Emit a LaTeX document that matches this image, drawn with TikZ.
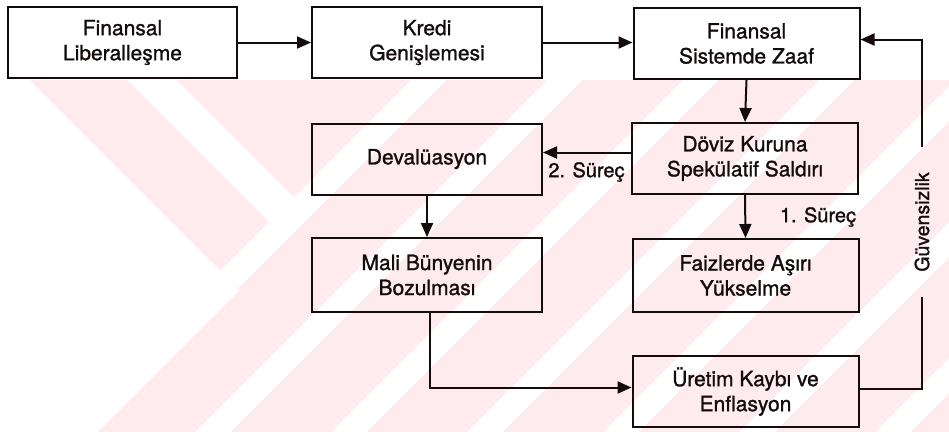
\documentclass[tikz,border=0pt]{standalone}
\usepackage{fontspec}
\setmainfont{TeX Gyre Heros}
\newfontfamily\heavy{TeX Gyre Heros}[FakeBold=1.2]
\usetikzlibrary{arrows.meta}
\definecolor{wm}{RGB}{253,235,238}
\definecolor{ink}{RGB}{20,12,12}
\begin{document}
\begin{tikzpicture}[x=1pt,y=-1pt,
  box/.style={draw=ink, text=ink, line width=2pt, minimum width=229pt, minimum height=71pt,
    align=center, font=\heavy\fontsize{21}{25}\selectfont, inner sep=0pt},
  rbox/.style={box, minimum width=226pt},
  arr/.style={draw=ink, line width=2pt, -{Triangle[length=14pt,width=12pt]}},
  conn/.style={draw=ink, line width=2pt},
  lbl/.style={text=ink, font=\heavy\fontsize{20}{24}\selectfont, inner sep=0pt}]
\useasboundingbox (0,0) rectangle (949,432);
% watermark
\begin{scope}
  \clip (30,80) -- (240,290) -- (98,432) -- (949,432) -- (949,80) -- cycle;
  \fill[wm] (0,80) rectangle (949,432);
  \foreach \c in {509,645,781,917,1053,1189,1325,1461} {
    \draw[white, line width=25pt] ({\c-40},40) -- ({\c-470},470);
  }
  \draw[white, line width=35pt] (112,40) -- (293.5,221.5);
\end{scope}
% boxes
\node[box] (b1) at (122.5,42.5) {Finansal\\Liberalleşme};
\node[box, minimum width=230pt] (b2) at (427,42.5) {Kredi\\Genişlemesi};
\node[rbox] (b3) at (746.5,43.5) {Finansal\\Sistemde Zaaf};
\node[rbox] (dov) at (745,158.5) {Döviz Kuruna\\Spekülatif Saldırı};
\node[box, minimum width=230pt] (dev) at (427,159) {Devalüasyon};
\node[box, minimum width=230pt, minimum height=74pt] (mali) at (427,275) {Mali Bünyenin\\Bozulması};
\node[rbox, minimum height=73pt] (faiz) at (745.5,275.5) {Faizlerde Aşırı\\Yükselme};
\node[rbox] (ure) at (745.5,391.5) {Üretim Kaybı ve\\Enflasyon};
% labels
\node[lbl] (s2) at (586.5,172) {2. Süreç};
\node[lbl] (s1) at (818,217) {1. Süreç};
\node[lbl, font=\heavy\fontsize{19.5}{24}\selectfont, rotate=90, inner xsep=25pt] (gv) at (922,222) {Güvensizlik};
% connectors
\draw[arr] (b1.east) -- (b2.west);
\draw[arr] (b2.east) -- (b2.east -| b3.west);
\draw[arr] (b3.south) -- (dov.north);
\draw[arr] ([yshift=6pt]dov.west) -- ([yshift=6pt]dov.west -| dev.east);
\draw[arr] (dev.south) -- (mali.north);
\draw[arr] (dov.south) -- (faiz.north);
\draw[arr] ([xshift=3pt]mali.south) |- ([yshift=4pt]ure.west);
\draw[conn] ([yshift=3pt]ure.east) -| (gv.west);
\draw[arr] (gv.east) |- ([yshift=4pt]b3.east);
\end{tikzpicture}
\end{document}
